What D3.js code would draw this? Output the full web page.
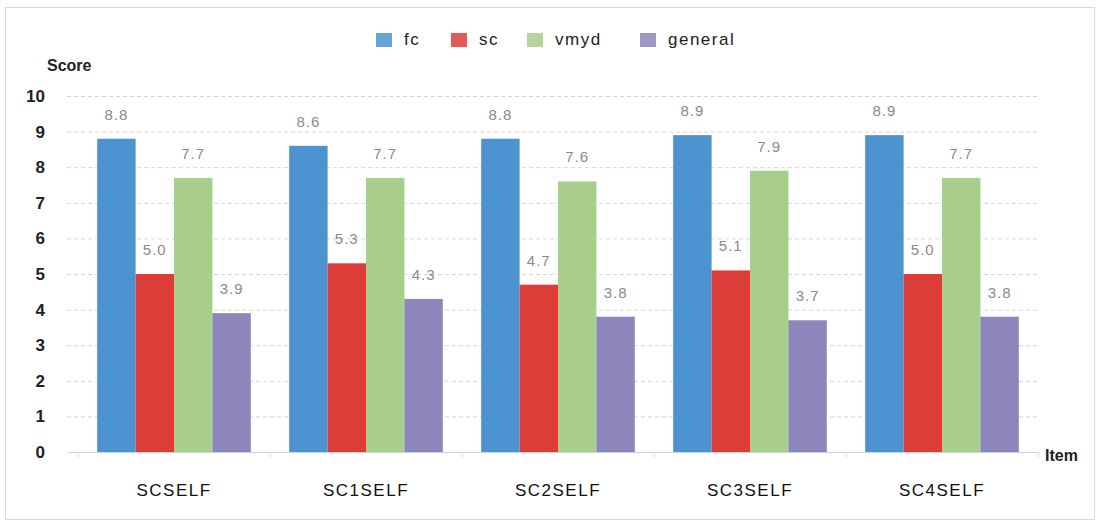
<!DOCTYPE html>
<html>
<head>
<meta charset="utf-8">
<script src="https://cdn.jsdelivr.net/npm/d3@7"></script>
<style>
  body { margin: 0; background: #fff; }
  text { font-family: "Liberation Sans", Arial, sans-serif; }
</style>
</head>
<body>
<div id="chart"></div>
<script>
var categories = ["SCSELF", "SC1SELF", "SC2SELF", "SC3SELF", "SC4SELF"];
var seriesNames = ["fc", "sc", "vmyd", "general"];
var fcValues = [8.8, 8.6, 8.8, 8.9, 8.9];
var scValues = [5.0, 5.3, 4.7, 5.1, 5.0];
var vmydValues = [7.7, 7.7, 7.6, 7.9, 7.7];
var generalValues = [3.9, 4.3, 3.8, 3.7, 3.8];
var yTicks = [0, 1, 2, 3, 4, 5, 6, 7, 8, 9, 10];
var colors = ["#4b94cf", "#dc3d38", "#a9cd8b", "#8e86ba"];

var allSeries = [fcValues, scValues, vmydValues, generalValues];

var width = 1100, height = 524;
var margin = {top: 96, right: 62, bottom: 72, left: 78};
var innerW = width - margin.left - margin.right,
    innerH = height - margin.top - margin.bottom;

var svg = d3.select("#chart").append("svg")
    .attr("width", width)
    .attr("height", height);

// outer frame
svg.append("rect")
    .attr("x", 5.5).attr("y", 7.5)
    .attr("width", 1089).attr("height", 512)
    .attr("fill", "none")
    .attr("stroke", "#d8d8d8");

var g = svg.append("g")
    .attr("transform", "translate(" + margin.left + "," + margin.top + ")");

var x0 = d3.scaleBand().domain(categories).range([0, innerW]).paddingInner(0.2).paddingOuter(0.1);
var x1 = d3.scaleBand().domain(seriesNames).range([0, x0.bandwidth()]);
var y = d3.scaleLinear().domain([0, 10]).range([innerH, 0]);

// gridlines
g.selectAll(".grid")
    .data(yTicks.slice(1))
  .enter().append("line")
    .attr("x1", -11).attr("x2", innerW)
    .attr("y1", function(d) { return y(d) + 0.5; })
    .attr("y2", function(d) { return y(d) + 0.5; })
    .attr("stroke", "#d4d4d4")
    .attr("stroke-dasharray", "4,3");

// baseline
g.append("line")
    .attr("x1", -11).attr("x2", innerW)
    .attr("y1", innerH + 0.5).attr("y2", innerH + 0.5)
    .attr("stroke", "#c9d3e6");

// small separators below baseline
var sepX = d3.range(categories.length + 1).map(function(i) {
    return i === 0 ? 0 : (i === categories.length ? innerW : x0(categories[i]) - x0.step() * 0.1);
});
g.selectAll(".sep")
    .data(sepX)
  .enter().append("line")
    .attr("x1", function(d) { return d + 0.5; })
    .attr("x2", function(d) { return d + 0.5; })
    .attr("y1", innerH).attr("y2", innerH + 6)
    .attr("stroke", "#dde3ee");

// y tick labels
g.selectAll(".ytick")
    .data(yTicks)
  .enter().append("text")
    .attr("x", -33)
    .attr("y", function(d) { return y(d); })
    .attr("dy", "0.35em")
    .attr("text-anchor", "end")
    .attr("font-size", 17)
    .attr("font-weight", "bold")
    .attr("fill", "#222")
    .text(function(d) { return d; });

// bars
var groups = g.selectAll(".group")
    .data(categories)
  .enter().append("g")
    .attr("transform", function(d) { return "translate(" + x0(d) + ",0)"; });

groups.selectAll("rect")
    .data(function(d, i) { return seriesNames.map(function(s, k) { return {s: s, k: k, v: allSeries[k][i]}; }); })
  .enter().append("rect")
    .attr("x", function(d) { return x1(d.s); })
    .attr("y", function(d) { return y(d.v); })
    .attr("width", x1.bandwidth())
    .attr("height", function(d) { return innerH - y(d.v); })
    .attr("fill", function(d) { return colors[d.k]; });

groups.selectAll(".val")
    .data(function(d, i) { return seriesNames.map(function(s, k) { return {s: s, k: k, v: allSeries[k][i]}; }); })
  .enter().append("text")
    .attr("x", function(d) { return x1(d.s) + x1.bandwidth() / 2; })
    .attr("y", function(d) { return y(d.v) - 19; })
    .attr("text-anchor", "middle")
    .attr("font-size", 15)
    .attr("letter-spacing", "1px")
    .attr("fill", "#8a8a8a")
    .text(function(d) { return d.v.toFixed(1); });

// category labels
g.selectAll(".cat")
    .data(categories)
  .enter().append("text")
    .attr("x", function(d) { return x0(d) + x0.bandwidth() / 2; })
    .attr("y", innerH + 44)
    .attr("text-anchor", "middle")
    .attr("font-size", 17)
    .attr("letter-spacing", "1.5px")
    .attr("fill", "#111")
    .text(function(d) { return d; });

// axis titles
svg.append("text")
    .attr("x", 47).attr("y", 71)
    .attr("font-size", 16)
    .attr("font-weight", "bold")
    .attr("fill", "#222")
    .text("Score");

svg.append("text")
    .attr("x", 1045).attr("y", 461)
    .attr("font-size", 16)
    .attr("font-weight", "bold")
    .attr("fill", "#222")
    .text("Item");

// legend
var legendX = [376, 451, 527, 640];
var legend = svg.selectAll(".legend")
    .data(seriesNames)
  .enter().append("g")
    .attr("transform", function(d, i) { return "translate(" + legendX[i] + ",33)"; });
legend.append("rect")
    .attr("width", 16).attr("height", 14)
    .attr("fill", function(d, i) { return colors[i]; })
    .attr("opacity", 0.85);
legend.append("text")
    .attr("x", 28).attr("y", 12)
    .attr("font-size", 17)
    .attr("letter-spacing", "1.5px")
    .attr("fill", "#222")
    .text(function(d) { return d; });
</script>
</body>
</html>
